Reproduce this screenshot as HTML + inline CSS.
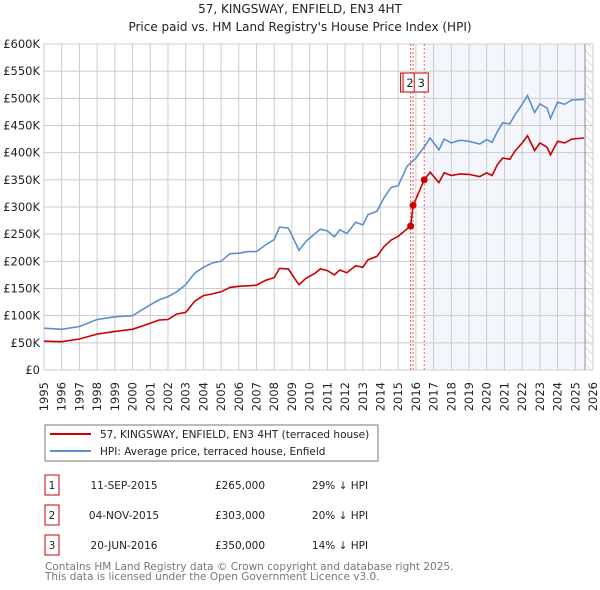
<!DOCTYPE html>
<html><head><meta charset="utf-8"><style>
body{margin:0;background:#fff;}
svg{display:block;font-family:"DejaVu Sans","Liberation Sans",sans-serif;}
</style></head><body>
<svg id="c" width="600" height="590" viewBox="0 0 600 590">
<defs><pattern id="hatch" width="6" height="6" patternUnits="userSpaceOnUse" patternTransform="rotate(-45)"><line x1="0" y1="0" x2="0" y2="6" stroke="#bbb" stroke-width="1"/></pattern></defs>
<text x="300" y="13" text-anchor="middle" font-size="12" fill="#222">57, KINGSWAY, ENFIELD, EN3 4HT</text>
<text x="300" y="31" text-anchor="middle" font-size="12" fill="#222">Price paid vs. HM Land Registry's House Price Index (HPI)</text>
<g id="grid"></g><g id="marks"></g><g id="axes"></g>
<rect x="45" y="425" width="333" height="36" fill="#fff" stroke="#777"/>
<line x1="50" y1="434" x2="91" y2="434" stroke="#cc0000" stroke-width="2"/>
<text x="100" y="438" font-size="10.5" fill="#222">57, KINGSWAY, ENFIELD, EN3 4HT (terraced house)</text>
<line x1="50" y1="451" x2="91" y2="451" stroke="#5b8fd0" stroke-width="2"/>
<text x="100" y="455" font-size="10.5" fill="#222">HPI: Average price, terraced house, Enfield</text>
<g id="table" font-size="10.5" fill="#222"></g>
<text x="45" y="570" font-size="10.5" fill="#777">Contains HM Land Registry data © Crown copyright and database right 2025.</text>
<text x="45" y="580" font-size="10.5" fill="#777">This data is licensed under the Open Government Licence v3.0.</text>
</svg>
<script>
const hpiYears=[1995,1996,1997,1998,1999,2000,2001,2001.5,2002,2002.5,2003,2003.5,2004,2004.5,2005,2005.5,2006,2006.5,2007,2007.5,2008,2008.3,2008.8,2009.2,2009.4,2009.8,2010.3,2010.6,2011,2011.4,2011.7,2012.1,2012.6,2013,2013.3,2013.8,2014.2,2014.6,2015,2015.5,2016,2016.5,2016.8,2017.3,2017.6,2018,2018.5,2019,2019.6,2020,2020.3,2020.6,2020.9,2021.3,2021.6,2022,2022.3,2022.7,2023,2023.4,2023.6,2024,2024.4,2024.8,2025.5];
const hpiValues=[77,75,80,93,98,100,120,129,135,144,157,178,189,197,200,214,215,218,218,230,240,263,261,234,220,237,251,259,256,245,258,251,272,267,286,292,317,336,339,375,390,412,427,405,425,418,423,421,416,424,419,439,455,453,470,489,505,474,490,482,463,493,489,497,498];
const propYears=[1995,1996,1997,1998,1999,2000,2001,2001.5,2002,2002.5,2003,2003.5,2004,2004.5,2005,2005.5,2006,2006.5,2007,2007.5,2008,2008.3,2008.8,2009.2,2009.4,2009.8,2010.3,2010.6,2011,2011.4,2011.7,2012.1,2012.6,2013,2013.3,2013.8,2014.2,2014.6,2015,2015.7,2015.85,2016.47,2016.8,2017.3,2017.6,2018,2018.5,2019,2019.6,2020,2020.3,2020.6,2020.9,2021.3,2021.6,2022,2022.3,2022.7,2023,2023.4,2023.6,2024,2024.4,2024.8,2025.5];
const propValues=[53,52,57,66,71,75,86,92,93,103,106,126,137,140,144,152,154,155,156,165,170,187,186,166,157,169,178,186,183,175,184,179,192,189,203,209,227,239,246,265,303,350,364,345,363,358,361,360,356,363,358,378,390,388,403,418,431,404,418,410,396,421,418,425,427];
const saleLabels=["1","2","3"];
const saleYears=[2015.70,2015.84,2016.47];
const salePrices=[265,303,350];
const saleDates=["11-SEP-2015","04-NOV-2015","20-JUN-2016"];
const salePriceText=["£265,000","£303,000","£350,000"];
const saleDiffText=["29% ↓ HPI","20% ↓ HPI","14% ↓ HPI"];
const yTicks=[0,50,100,150,200,250,300,350,400,450,500,550,600];
const yTickLabels=["£0","£50K","£100K","£150K","£200K","£250K","£300K","£350K","£400K","£450K","£500K","£550K","£600K"];
const xTicks=[1995,1996,1997,1998,1999,2000,2001,2002,2003,2004,2005,2006,2007,2008,2009,2010,2011,2012,2013,2014,2015,2016,2017,2018,2019,2020,2021,2022,2023,2024,2025,2026];
const dataEndYear=2025.55;

const NS="http://www.w3.org/2000/svg";
const X0=44,X1=593,Y0=370,Y1=44;
const x=y=>X0+(y-1995)/31*(X1-X0);
const yv=v=>Y0-v/600*(Y0-Y1);
function mk(t,a,p){const e=document.createElementNS(NS,t);for(const k in a)e.setAttribute(k,a[k]);p.appendChild(e);return e;}
const grid=document.getElementById('grid'),marks=document.getElementById('marks'),axes=document.getElementById('axes'),table=document.getElementById('table');
let r=mk('rect',{x:x(saleYears[2]),y:Y1,width:x(dataEndYear)-x(saleYears[2]),height:Y0-Y1,fill:'#eef3fc',opacity:0.7},grid);


let h=mk('rect',{x:x(dataEndYear),y:Y1,width:X1-x(dataEndYear),height:Y0-Y1,fill:'url(#hatch)'},grid);


xTicks.forEach(t=>{
  const l=mk('line',{x1:x(t),x2:x(t),y1:Y1,y2:Y0,stroke:'#ccc','stroke-width':1},grid);
  
  
  const tx=mk('text',{x:0,y:0,'text-anchor':'end','font-size':11.5,fill:'#222',transform:'translate('+(x(t)+4)+','+(Y0+12)+') rotate(-90)'},axes);
  tx.textContent=t;
  
  
});
yTicks.forEach((t,i)=>{
  const l=mk('line',{x1:X0,x2:X1,y1:yv(t),y2:yv(t),stroke:'#ccc','stroke-width':1},grid);
  
  
  const tx=mk('text',{x:X0-4,y:yv(t)+4,'text-anchor':'end','font-size':11.5,fill:'#222'},axes);
  tx.textContent=yTickLabels[i];
  
  
});
let ve=mk('line',{x1:x(dataEndYear),x2:x(dataEndYear),y1:Y1,y2:Y0,stroke:'#888'},grid);


saleYears.forEach((s,i)=>{
  const l=mk('line',{x1:x(s),x2:x(s),y1:Y1,y2:Y0,stroke:'#f06060','stroke-dasharray':'2,2','stroke-width':1},marks);
  
  
});
const pts=(xs,vs)=>xs.map((t,i)=>x(t).toFixed(1)+','+yv(vs[i]).toFixed(1)).join(' ');
let hl=mk('polyline',{points:pts(hpiYears,hpiValues),fill:'none',stroke:'#5b8fd0','stroke-width':1.6},marks);


let pl=mk('polyline',{points:pts(propYears,propValues),fill:'none',stroke:'#cc0000','stroke-width':1.6},marks);


saleYears.forEach((s,i)=>{
  const c=mk('circle',{cx:x(s),cy:yv(salePrices[i]),r:3.5,fill:'#cc0000'},marks);
  
  
});
saleYears.forEach((s,i)=>{
  const g=mk('g',{},marks);
  
  
  mk('rect',{x:x(s)-10,y:73,width:14,height:19,fill:'#fff',stroke:'#cc0000'},g);
  const t=mk('text',{x:x(s)-3,y:87,'text-anchor':'middle','font-size':11.5,fill:'#222'},g);
  t.textContent=saleLabels[i];
});
saleLabels.forEach((lab,i)=>{
  const yy=475+i*30;
  const g=mk('g',{},table);
  
  
  mk('rect',{x:45,y:yy,width:14,height:20,fill:'#fff',stroke:'#cc0000'},g);
  const cols=[[52,lab],[124,saleDates[i]],[240,salePriceText[i]],[340,saleDiffText[i]]];
  cols.forEach(c=>{const t=mk('text',{x:c[0],y:yy+14,'text-anchor':'middle'},g);t.textContent=c[1];});
});
</script>
</body></html>
